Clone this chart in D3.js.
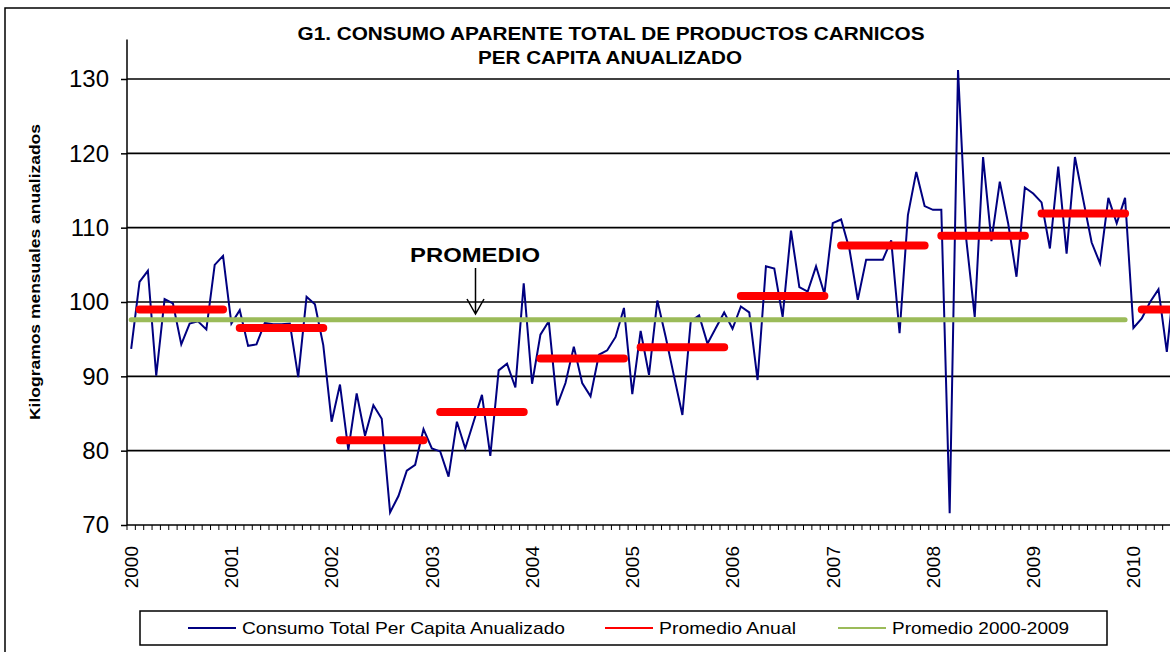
<!DOCTYPE html>
<html lang="es">
<head>
<meta charset="UTF-8">
<title>G1 Consumo aparente</title>
<script src="https://d3js.org/d3.v7.min.js"></script>
<style>
  body { margin: 0; background: #fff; }
  svg { display: block; font-family: "Liberation Sans", Arial, sans-serif; }
</style>
</head>
<body>
<svg id="chart" width="1170" height="652"></svg>
<script>

// años del eje (etiquetas) y serie mensual
const years = [2000, 2001, 2002, 2003, 2004, 2005, 2006, 2007, 2008, 2009, 2010];
const consumo = [
  93.7, 102.7, 104.2, 90.1, 100.4, 99.8, 94.3, 97.1, 97.4, 96.3, 105.0, 106.2,   // 2000
  97.1, 98.9, 94.1, 94.3, 97.2, 97.0, 97.0, 97.1, 89.9, 100.7, 99.7, 94.2,      // 2001
  83.9, 88.9, 80.1, 87.7, 82.0, 86.1, 84.3, 71.7, 73.9, 77.3, 78.1, 82.9,       // 2002
  80.3, 79.9, 76.5, 83.9, 80.3, 83.9, 87.5, 79.3, 90.8, 91.7, 88.5, 102.5,      // 2003
  89.0, 95.6, 97.4, 86.1, 89.1, 94.0, 89.1, 87.3, 92.9, 93.5, 95.3, 99.2,       // 2004
  87.6, 96.1, 90.2, 100.2, 95.3, 90.0, 84.8, 97.4, 98.2, 94.4, 96.5, 98.6,      // 2005
  96.4, 99.4, 98.6, 89.5, 104.8, 104.5, 98.0, 109.6, 102.0, 101.4, 104.8, 101.1, // 2006
  110.6, 111.1, 107.1, 100.3, 105.7, 105.7, 105.7, 108.3, 95.8, 111.7, 117.5, 112.9, // 2007
  112.4, 112.4, 71.6, 131.2, 108.3, 98.0, 119.5, 108.2, 116.2, 110.6, 103.4, 115.4, // 2008
  114.6, 113.4, 107.2, 118.2, 106.5, 119.5, 113.7, 108.0, 105.2, 114.0, 110.6, 114.0, // 2009
  96.5, 97.8, 100.0, 101.7, 93.3, 104.0                                          // 2010
];
const promedioAnual = [99.0, 96.5, 81.4, 85.2, 92.4, 93.9, 100.8, 107.6, 108.9, 111.9, 99.0];
const promedioTotal = 97.6;
const yTicks = [70, 80, 90, 100, 110, 120, 130];

const svg = d3.select('#chart');

// categorias mensuales
const months = [];
years.forEach(y => { for (let m = 1; m <= 12; m++) months.push(y + '-' + m); });

const x = d3.scaleBand().domain(months).range([127, 127 + months.length * 8.352]);
const y = d3.scaleLinear().domain([70, 130]).range([525, 79]);
const cx = m => x(m) + x.bandwidth() / 2;

// marco
svg.append('path').attr('d', 'M5,652V8H1170').attr('fill', 'none').attr('stroke', '#000').attr('stroke-width', 1.5);

// titulo
svg.append('text').attr('x', 611).attr('y', 40).attr('text-anchor', 'middle')
  .attr('font-weight', 'bold').attr('font-size', 18)
  .attr('textLength', 627).attr('lengthAdjust', 'spacingAndGlyphs')
  .text('G1. CONSUMO APARENTE TOTAL DE  PRODUCTOS CARNICOS');
svg.append('text').attr('x', 610).attr('y', 64).attr('text-anchor', 'middle')
  .attr('font-weight', 'bold').attr('font-size', 18)
  .attr('textLength', 264).attr('lengthAdjust', 'spacingAndGlyphs')
  .text('PER CAPITA ANUALIZADO');

// lineas de cuadricula
svg.append('g').selectAll('line').data(yTicks.slice(1)).join('line')
  .attr('x1', 127).attr('x2', 1170)
  .attr('y1', d => y(d)).attr('y2', d => y(d))
  .attr('stroke', '#000').attr('stroke-width', 1.6);

// eje y
const yAxis = d3.axisLeft(y).tickValues(yTicks).tickSize(6).tickPadding(12);
const gy = svg.append('g').attr('transform', 'translate(127,0)').call(yAxis);
gy.select('.domain').remove();
gy.append('line').attr('x1', 0).attr('x2', 0).attr('y1', y(135.3)).attr('y2', y(70))
  .attr('stroke', '#000').attr('stroke-width', 1.5);
gy.selectAll('.tick line').attr('stroke-width', 1.5);
gy.selectAll('text').attr('font-size', 24).attr('fill', '#000')
  .attr('font-family', '"Liberation Sans", Arial, sans-serif');

svg.append('text')
  .attr('transform', 'translate(40,272) rotate(-90)')
  .attr('text-anchor', 'middle').attr('font-weight', 'bold').attr('font-size', 15)
  .attr('textLength', 296).attr('lengthAdjust', 'spacingAndGlyphs')
  .text('Kilogramos mensuales anualizados');

// eje x: marcas menores en cada mes
svg.append('line').attr('x1', 127).attr('x2', 1170).attr('y1', 525).attr('y2', 525)
  .attr('stroke', '#000').attr('stroke-width', 1.5);
svg.append('g').selectAll('line').data(months).join('line')
  .attr('x1', d => x(d)).attr('x2', d => x(d))
  .attr('y1', 525).attr('y2', 530)
  .attr('stroke', '#000').attr('stroke-width', 1);

const xAxis = d3.axisBottom(x)
  .tickValues(years.map(yr => yr + '-1'))
  .tickFormat(d => d.split('-')[0])
  .tickSize(0);
const gx = svg.append('g').attr('transform', 'translate(0,525)').call(xAxis);
gx.select('.domain').remove();
gx.selectAll('text')
  .attr('transform', 'rotate(-90)')
  .attr('text-anchor', 'end')
  .attr('x', -21).attr('y', 0).attr('dy', '0.36em')
  .attr('font-size', 19).attr('fill', '#000')
  .attr('font-family', '"Liberation Sans", Arial, sans-serif');

// serie mensual
const line = d3.line().x((d, i) => cx(months[i])).y(d => y(d));
svg.append('path').datum(consumo)
  .attr('d', line).attr('fill', 'none')
  .attr('stroke', '#000080').attr('stroke-width', 2).attr('stroke-linejoin', 'miter');

// promedio anual (feb-dic de cada año)
svg.append('g').selectAll('line').data(promedioAnual).join('line')
  .attr('x1', (d, i) => cx(years[i] + '-2'))
  .attr('x2', (d, i) => cx(years[i] + '-12'))
  .attr('y1', d => y(d)).attr('y2', d => y(d))
  .attr('stroke', '#ff0000').attr('stroke-width', 8).attr('stroke-linecap', 'round');

// promedio 2000-2009
svg.append('line')
  .attr('x1', cx('2000-1')).attr('x2', cx('2009-12'))
  .attr('y1', y(promedioTotal)).attr('y2', y(promedioTotal))
  .attr('stroke', '#9bbb59').attr('stroke-width', 5).attr('stroke-linecap', 'round');

// anotacion PROMEDIO
svg.append('text').attr('x', 475).attr('y', 262).attr('text-anchor', 'middle')
  .attr('font-weight', 'bold').attr('font-size', 20)
  .attr('textLength', 130).attr('lengthAdjust', 'spacingAndGlyphs')
  .text('PROMEDIO');
svg.append('path')
  .attr('d', 'M475.5,268V314M467,299L475.5,314L484,299')
  .attr('fill', 'none').attr('stroke', '#000').attr('stroke-width', 1.5);

// leyenda
const legend = svg.append('g');
legend.append('rect').attr('x', 140).attr('y', 611).attr('width', 967).attr('height', 34)
  .attr('fill', '#fff').attr('stroke', '#000').attr('stroke-width', 1.5);
const items = [
  { label: 'Consumo Total Per Capita Anualizado', color: '#000080', x: 188, w: 323 },
  { label: 'Promedio Anual', color: '#ff0000', x: 605, w: 137 },
  { label: 'Promedio 2000-2009', color: '#9bbb59', x: 838, w: 177 }
];
items.forEach(it => {
  legend.append('line').attr('x1', it.x).attr('x2', it.x + 48).attr('y1', 628).attr('y2', 628)
    .attr('stroke', it.color).attr('stroke-width', 2);
  legend.append('text').attr('x', it.x + 54).attr('y', 634).attr('font-size', 17)
    .attr('textLength', it.w).attr('lengthAdjust', 'spacingAndGlyphs')
    .text(it.label);
});

</script>
</body>
</html>
